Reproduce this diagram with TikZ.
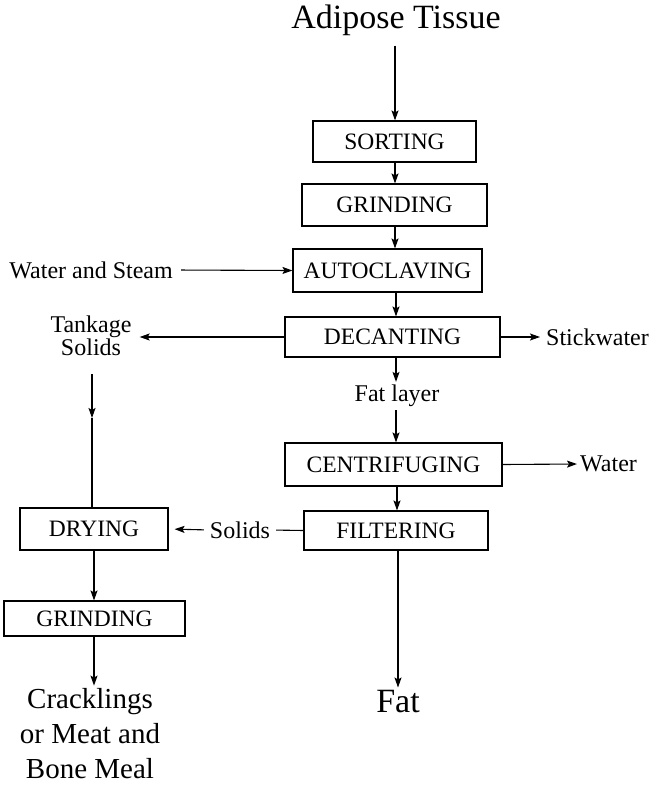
\documentclass[tikz,border=0pt]{standalone}
\usepackage{fontspec}
\setmainfont{Liberation Serif}
\usetikzlibrary{arrows.meta}
\begin{document}
\begin{tikzpicture}[x=1pt,y=-1pt,
 stepbox/.style={draw,line width=1.1pt,inner sep=0pt,font=\fontsize{23.5}{26}\selectfont},
 lbl/.style={inner sep=0pt,font=\fontsize{24}{23}\selectfont,align=center},
 big/.style={inner sep=0pt,font=\fontsize{34}{36}\selectfont,align=center},
 arr/.style={line width=1.1pt,-{Stealth[length=10pt,width=7pt,inset=2pt]}},
 ln/.style={line width=1.1pt}]
\useasboundingbox (0,0) rectangle (652,786);
% column coordinates
\coordinate (cA) at (395,0);
\coordinate (cB) at (396,0);
\coordinate (cC) at (397,0);
\coordinate (cD) at (398,0);
\coordinate (cL) at (92,0);
\coordinate (cM) at (94,0);
% nodes
\node[big] (adipose) at (396,20) {Adipose Tissue};
\node[stepbox,minimum width=163pt,minimum height=41pt] (sort) at (394.5,141.5) {SORTING};
\node[stepbox,minimum width=185pt,minimum height=42pt] (grind) at (394.5,205) {GRINDING};
\node[stepbox,minimum width=189pt,minimum height=43pt] (auto) at (387.5,270.5) {AUTOCLAVING};
\node[stepbox,minimum width=215pt,minimum height=40pt] (decant) at (392.5,337) {DECANTING};
\node[stepbox,minimum width=217pt,minimum height=43pt] (centrif) at (393.5,464.5) {CENTRIFUGING};
\node[stepbox,minimum width=184pt,minimum height=39pt] (filter) at (396,530.5) {FILTERING};
\node[stepbox,minimum width=148pt,minimum height=42pt] (dry) at (94,529) {DRYING};
\node[stepbox,minimum width=181pt,minimum height=35pt] (grind2) at (94.5,618.5) {GRINDING};
\node[lbl,anchor=east] (water) at (173,270) {Water and Steam};
\node[lbl] (tankage) at (91,336) {Tankage\\Solids};
\node[lbl,anchor=west] (stick) at (546,337) {Stickwater};
\node[lbl] (fatlayer) at (397,396) {Fat layer};
\node[lbl,anchor=west] (wout) at (580,464) {Water};
\node[lbl] (solids) at (240,530) {Solids};
\node[big] (fat) at (398,702) {Fat};
\node[big,font=\fontsize{29}{35}\selectfont] (crack) at (90,734) {Cracklings\\or Meat and\\Bone Meal};
\coordinate (tkmid) at (92,418);
% connectors
\draw[arr,shorten <=10pt] (adipose.south -| cA) -- (sort.north -| cA);
\draw[arr] (sort.south -| cA) -- (grind.north -| cA);
\draw[arr] (grind.south -| cA) -- (auto.north -| cA);
\draw[arr] (auto.south -| cB) -- (decant.north -| cB);
\draw[arr,shorten <=8pt] (water.east) -- (auto.west);
\draw[arr,shorten >=8pt] (decant.west) -- (tankage.east |- decant.west);
\draw[arr,shorten >=6pt] (decant.east) -- (stick.west);
\draw[arr,shorten >=3pt] (decant.south -| cB) -- (fatlayer.north -| cB);
\draw[arr,shorten <=3pt] (fatlayer.south -| cB) -- (centrif.north -| cB);
\draw[arr,shorten >=3pt] (centrif.east) -- (wout.west);
\draw[arr] (centrif.south -| cC) -- (filter.north -| cC);
\draw[ln,shorten >=6pt] (filter.west) -- (solids.east);
\draw[arr,shorten <=6pt,shorten >=6pt] (solids.west) -- (dry.east);
\draw[arr,shorten <=18pt] (tankage.south -| cL) -- (tkmid);
\draw[ln] (tkmid) -- (dry.north -| cL);
\draw[arr] (dry.south -| cM) -- (grind2.north -| cM);
\draw[arr,shorten >=3pt] (grind2.south -| cM) -- (crack.north -| cM);
\draw[arr,shorten >=3pt] (filter.south -| cD) -- (fat.north -| cD);
\end{tikzpicture}
\end{document}
